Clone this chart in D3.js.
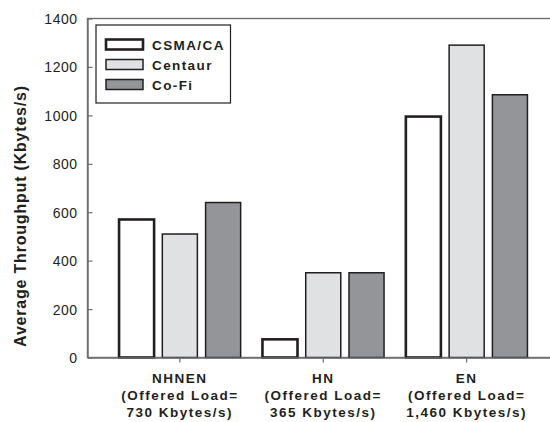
<!DOCTYPE html>
<html>
<head>
<meta charset="utf-8">
<script src="https://cdn.jsdelivr.net/npm/d3@7"></script>
<style>
  html, body { margin: 0; padding: 0; background: #fff; overflow: hidden; }
  svg { display: block; font-family: "Liberation Sans", Arial, sans-serif; }
</style>
</head>
<body>
<svg id="chart" width="550" height="422"></svg>
<script>
// Scenario groups and their axis labels (three lines each)
const categories = ["NHNEN", "HN", "EN"];
const categoryLines = [
  ["NHNEN", "(Offered Load=", "730 Kbytes/s)"],
  ["HN", "(Offered Load=", "365 Kbytes/s)"],
  ["EN", "(Offered Load=", "1,460 Kbytes/s)"]
];
const seriesNames = ["CSMA/CA", "Centaur", "Co-Fi"];
// Average throughput (Kbytes/s) per scenario
const csmaValues = [570, 75, 995];
const centaurValues = [510, 350, 1290];
const cofiValues = [640, 350, 1085];
const yTicks = [0, 200, 400, 600, 800, 1000, 1200, 1400];

const seriesValues = [csmaValues, centaurValues, cofiValues];
const fills = ["#ffffff", "#e0e1e3", "#939598"];
const strokeWidths = [2.6, 1.5, 1.5];

const svg = d3.select("#chart");
const plot = { left: 87.5, top: 18.5, right: 559, bottom: 357.5 };

const y = d3.scaleLinear().domain([0, 1400]).range([plot.bottom, plot.top]);
const x = d3.scaleBand().domain(categories)
  .range([plot.left, plot.right]).paddingInner(0).paddingOuter(0.144);
const groupWidth = 121.6;
const xs = d3.scaleBand().domain(seriesNames)
  .range([-groupWidth / 2, groupWidth / 2]).paddingInner(0.19).paddingOuter(0);

// Frame (top and left sides visible; right side runs past the edge)
svg.append("rect")
  .attr("x", plot.left).attr("y", plot.top)
  .attr("width", plot.right - plot.left).attr("height", plot.bottom - plot.top)
  .attr("fill", "none").attr("stroke", "#6d6e71").attr("stroke-width", 1.4);

// Y axis with inward ticks
const yAxis = svg.append("g")
  .attr("transform", `translate(${plot.left},0)`)
  .call(d3.axisLeft(y).tickValues(yTicks).tickSizeInner(-5).tickSizeOuter(0).tickPadding(10).tickFormat(d3.format("d")));
yAxis.select(".domain").attr("stroke", "#6d6e71").attr("stroke-width", 1.4);
yAxis.selectAll(".tick line").attr("stroke", "#6d6e71").attr("stroke-width", 1.2);
yAxis.selectAll(".tick text")
  .attr("fill", "#231f20").style("font-size", "14px").style("letter-spacing", "0.5px")
  .attr("dy", "0.36em");

// Bars
const groups = svg.append("g").selectAll("g.group")
  .data(categories).join("g")
  .attr("class", "group")
  .attr("transform", d => `translate(${x(d) + x.bandwidth() / 2},0)`);

groups.selectAll("rect")
  .data((d, i) => seriesNames.map((s, j) => ({ series: s, j, value: seriesValues[j][i] })))
  .join("rect")
  .attr("x", d => xs(d.series))
  .attr("width", xs.bandwidth())
  .attr("y", d => y(d.value))
  .attr("height", d => y(0) - y(d.value))
  .attr("fill", d => fills[d.j])
  .attr("stroke", "#231f20")
  .attr("stroke-width", d => strokeWidths[d.j]);

// X axis with outward ticks
const xAxis = svg.append("g")
  .attr("transform", `translate(0,${plot.bottom})`)
  .call(d3.axisBottom(x).tickSizeInner(5).tickSizeOuter(0).tickFormat(""));
xAxis.select(".domain").attr("stroke", "#6d6e71").attr("stroke-width", 1.6);
xAxis.selectAll(".tick line").attr("stroke", "#6d6e71").attr("stroke-width", 1.2);

// Multi-line category labels
const catLabels = svg.append("g").selectAll("text")
  .data(categoryLines).join("text")
  .attr("text-anchor", "middle")
  .attr("fill", "#231f20")
  .style("font-size", "13.5px").style("font-weight", "bold").style("letter-spacing", "1.5px");
catLabels.each(function (lines, i) {
  const cx = x(categories[i]) + x.bandwidth() / 2;
  d3.select(this).selectAll("tspan").data(lines).join("tspan")
    .attr("x", cx).attr("y", (d, k) => 383 + k * 17)
    .text(d => d);
});

// Y axis title
svg.append("text")
  .attr("transform", "translate(26,216) rotate(-90)")
  .attr("text-anchor", "middle")
  .attr("fill", "#231f20")
  .style("font-size", "16px").style("font-weight", "bold").style("letter-spacing", "0.8px")
  .text("Average Throughput (Kbytes/s)");

// Legend
const legend = svg.append("g");
legend.append("rect")
  .attr("x", 96).attr("y", 25).attr("width", 134.5).attr("height", 78)
  .attr("fill", "#fff").attr("stroke", "#231f20").attr("stroke-width", 1.2);
const items = legend.selectAll("g.item").data(seriesNames).join("g")
  .attr("class", "item")
  .attr("transform", (d, i) => `translate(0,${39.5 + i * 20})`);
items.append("rect")
  .attr("x", 106).attr("y", 0).attr("width", 37).attr("height", 10)
  .attr("fill", (d, i) => fills[i]).attr("stroke", "#231f20")
  .attr("stroke-width", (d, i) => strokeWidths[i]);
items.append("text")
  .attr("x", 152).attr("y", 10.5)
  .attr("fill", "#231f20")
  .style("font-size", "13.5px").style("font-weight", "bold").style("letter-spacing", "1.4px")
  .text(d => d);
</script>
</body>
</html>
